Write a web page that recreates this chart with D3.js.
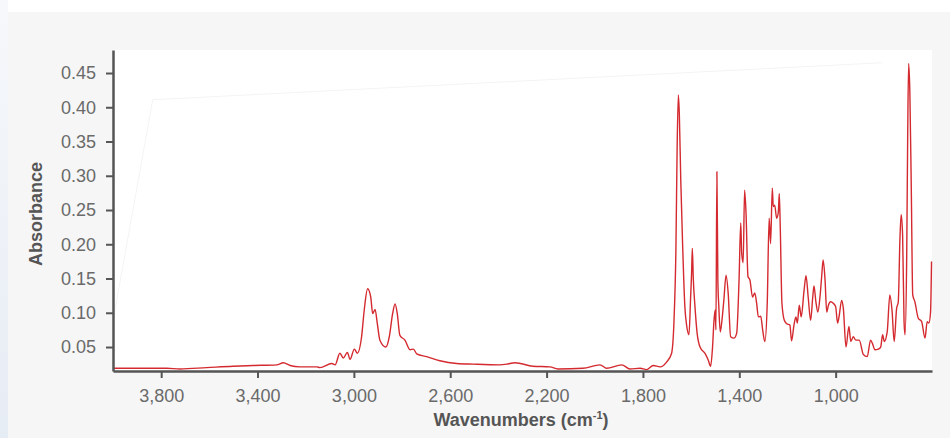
<!DOCTYPE html>
<html>
<head>
<meta charset="utf-8">
<script src="https://cdn.jsdelivr.net/npm/d3@7"></script>
<style>
    html, body { margin: 0; padding: 0; background: #fff; }
    svg { display: block; }
    .tick text { font-family: "Liberation Sans", Arial, sans-serif; font-size: 18px; fill: #6a6a6a; }
    .axis-title { font-family: "Liberation Sans", Arial, sans-serif; font-size: 18px; font-weight: bold; fill: #555; }
</style>
</head>
<body>
<svg id="chart" width="950" height="438"></svg>
<script>
// wavenumbers (cm-1)
const wavenumbers = [4000, 3992, 3888, 3777, 3722, 3611, 3502, 3419, 3320, 3293, 3265, 3224, 3154, 3141, 3092, 3078, 3058, 3044, 3027, 3016,
    2998, 2986, 2968, 2957, 2943, 2930, 2922, 2912, 2903, 2892, 2867, 2853, 2839, 2829, 2820, 2809, 2788, 2767, 2753, 2739,
    2698, 2643, 2573, 2504, 2394, 2366, 2331, 2257, 2186, 2153, 2049, 1978, 1951, 1888, 1854, 1812, 1785, 1757, 1729, 1702,
    1681, 1671, 1663, 1658, 1653, 1649, 1643, 1635, 1626, 1618, 1609, 1602, 1598, 1595, 1591, 1584, 1575, 1563, 1543, 1529,
    1519, 1511, 1505, 1500, 1497, 1493, 1489, 1485, 1479, 1472, 1464, 1455, 1446, 1436, 1422, 1411, 1401, 1394, 1390, 1384,
    1378, 1372, 1364, 1356, 1345, 1336, 1328, 1321, 1311, 1303, 1294, 1284, 1276, 1270, 1263, 1259, 1253, 1245, 1238, 1234,
    1230, 1223, 1213, 1203, 1190, 1183, 1173, 1165, 1159, 1151, 1143, 1131, 1123, 1114, 1104, 1095, 1090, 1082, 1074, 1065,
    1058, 1052, 1044, 1037, 1030, 1021, 1010, 1000, 992, 986, 975, 968, 957, 945, 937, 927, 916, 902, 885, 869,
    855, 847, 837, 823, 813, 805, 798, 786, 775, 766, 757, 747, 740, 733, 728, 722, 716, 712, 705, 701,
    697, 692, 686, 680, 671, 657, 643, 629, 620, 613, 606, 602];

// absorbance at each wavenumber
const absorbance = [0.019, 0.019, 0.019, 0.019, 0.018, 0.020, 0.022, 0.023, 0.024, 0.027, 0.023, 0.021, 0.021, 0.020, 0.026, 0.024, 0.041, 0.034, 0.042, 0.032,
    0.047, 0.041, 0.065, 0.104, 0.135, 0.123, 0.099, 0.105, 0.085, 0.060, 0.050, 0.065, 0.099, 0.113, 0.099, 0.067, 0.060, 0.046, 0.047, 0.040,
    0.036, 0.030, 0.026, 0.025, 0.024, 0.025, 0.027, 0.022, 0.021, 0.018, 0.019, 0.024, 0.019, 0.024, 0.018, 0.019, 0.017, 0.023, 0.021, 0.028,
    0.041, 0.089, 0.196, 0.342, 0.418, 0.391, 0.294, 0.196, 0.109, 0.080, 0.068, 0.123, 0.158, 0.194, 0.150, 0.109, 0.070, 0.050, 0.041, 0.031,
    0.022, 0.050, 0.089, 0.104, 0.075, 0.306, 0.148, 0.109, 0.072, 0.089, 0.119, 0.155, 0.128, 0.065, 0.063, 0.070, 0.148, 0.231, 0.187, 0.173,
    0.279, 0.245, 0.153, 0.148, 0.123, 0.129, 0.114, 0.094, 0.095, 0.075, 0.058, 0.114, 0.238, 0.201, 0.282, 0.255, 0.257, 0.238, 0.247, 0.274,
    0.226, 0.114, 0.089, 0.084, 0.082, 0.059, 0.082, 0.094, 0.085, 0.111, 0.094, 0.133, 0.154, 0.123, 0.089, 0.123, 0.139, 0.116, 0.101, 0.123,
    0.153, 0.177, 0.148, 0.101, 0.111, 0.116, 0.114, 0.109, 0.085, 0.094, 0.118, 0.106, 0.050, 0.080, 0.058, 0.065, 0.060, 0.060, 0.039, 0.036,
    0.060, 0.055, 0.046, 0.047, 0.050, 0.068, 0.058, 0.072, 0.126, 0.104, 0.058, 0.106, 0.116, 0.209, 0.243, 0.213, 0.087, 0.068, 0.184, 0.355,
    0.464, 0.423, 0.282, 0.126, 0.116, 0.092, 0.087, 0.063, 0.087, 0.085, 0.101, 0.175];

// the faint grey trace behind the spectrum
const ghost_wavenumbers = [4000, 3835, 808];
const ghost_absorbance = [0.088, 0.411, 0.465];

const x_ticks = [3800, 3400, 3000, 2600, 2200, 1800, 1400, 1000];
const y_ticks = [0.05, 0.10, 0.15, 0.20, 0.25, 0.30, 0.35, 0.40, 0.45];

const svg = d3.select("#chart");

// page background + panel
const defs = svg.append("defs");
const grad = defs.append("linearGradient").attr("id", "edge").attr("x1", 0).attr("y1", 0).attr("x2", 0).attr("y2", 1);
grad.append("stop").attr("offset", "0%").attr("stop-color", "#f6f8fb");
grad.append("stop").attr("offset", "100%").attr("stop-color", "#e6ecf4");
svg.append("rect").attr("x", 0).attr("y", 0).attr("width", 8).attr("height", 438).attr("fill", "url(#edge)");
svg.append("rect").attr("x", 8).attr("y", 12).attr("width", 942).attr("height", 426).attr("fill", "#f6f6f6");

const plot = { left: 113, top: 50, right: 932, bottom: 371 };
svg.append("rect")
    .attr("x", plot.left).attr("y", plot.top)
    .attr("width", plot.right - plot.left).attr("height", plot.bottom - plot.top)
    .attr("fill", "#fff");

let x = d3.scaleLinear().domain([4000, 600]).range([plot.left, plot.right]);
let y = d3.scaleLinear().domain([0.015, 0.4836]).range([plot.bottom, plot.top]);

// faint trace
let ghost = ghost_wavenumbers.map((w, i) => ({ w: w, a: ghost_absorbance[i] }));
svg.append("path")
    .datum(ghost)
    .attr("fill", "none")
    .attr("stroke", "#f4f4f4")
    .attr("stroke-width", 1)
    .attr("d", d3.line().x(d => x(d.w)).y(d => y(d.a)));

// spectrum
let spectrum = wavenumbers.map((w, i) => ({ w: w, a: absorbance[i] }));
svg.append("path")
    .datum(spectrum)
    .attr("fill", "none")
    .attr("stroke", "#d42a2f")
    .attr("stroke-width", 1.4)
    .attr("stroke-linejoin", "round")
    .attr("d", d3.line().curve(d3.curveMonotoneX).x(d => x(d.w)).y(d => y(d.a)));

// axes
const x_axis = svg.append("g")
    .attr("transform", `translate(0,${plot.bottom})`)
    .call(d3.axisBottom(x).tickValues(x_ticks).tickFormat(d3.format(",")).tickSize(7).tickSizeOuter(0).tickPadding(11));
const y_axis = svg.append("g")
    .attr("transform", `translate(${plot.left},0)`)
    .call(d3.axisLeft(y).tickValues(y_ticks).tickFormat(d3.format(".2f")).tickSize(7).tickSizeOuter(0).tickPadding(10));

[x_axis, y_axis].forEach(function (g) {
    g.select(".domain").attr("stroke", "#555").attr("stroke-width", 2.5);
    g.selectAll(".tick line").attr("stroke", "#555").attr("stroke-width", 2);
    g.selectAll(".tick text").attr("font-family", null).attr("font-size", null).attr("fill", null);
});

// titles
svg.append("text")
    .attr("class", "axis-title")
    .attr("x", 521).attr("y", 426)
    .attr("text-anchor", "middle")
    .html('Wavenumbers (cm<tspan dy="-7" font-size="11">-1</tspan><tspan dy="7">)</tspan>');

svg.append("text")
    .attr("class", "axis-title")
    .attr("transform", "translate(42,214) rotate(-90)")
    .attr("text-anchor", "middle")
    .text("Absorbance");
</script>
</body>
</html>
